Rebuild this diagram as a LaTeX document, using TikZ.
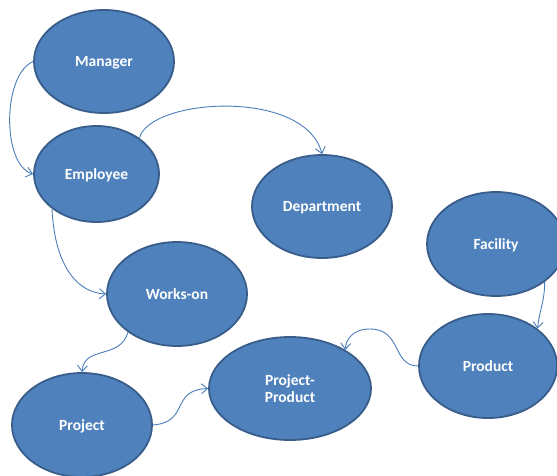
\documentclass[tikz,border=0pt]{standalone}
\usepackage{fontspec}
\setmainfont{Carlito}
\usetikzlibrary{shapes.geometric,arrows.meta}
\definecolor{entfill}{HTML}{4F81BD}
\definecolor{entline}{HTML}{385D8A}
\definecolor{linkcol}{HTML}{4A7EBB}
\tikzset{
  entity/.style={ellipse, fill=entfill, draw=entline, line width=1.8pt, inner sep=0pt,
    text=white, font=\fontsize{15.5}{17.7}\selectfont\bfseries, align=center},
  oneline/.style={text depth=0pt},
  link/.style={draw=linkcol, line width=0.9pt, -{Straight Barb[length=6pt,width=10pt]}}
}
\begin{document}
\begin{tikzpicture}[x=1pt,y=-1pt]
\clip (0,0) rectangle (557,475);
\fill[white] (0,0) rectangle (557,475);
\node[entity, oneline, minimum width=140pt, minimum height=103pt] (manager) at (104,61.5) {Manager};
\node[entity, oneline, minimum width=125pt, minimum height=96pt] (employee) at (96.5,174) {Employee};
\node[entity, oneline, minimum width=140pt, minimum height=103pt] (dept) at (322,206.5) {Department};
\node[entity, oneline, minimum width=138pt, minimum height=104pt] (facility) at (496,244) {Facility};
\node[entity, oneline, minimum width=140pt, minimum height=104pt] (works) at (177,294) {Works-on};
\node[entity, oneline, minimum width=140pt, minimum height=104pt] (project) at (82,425) {Project};
\node[entity, minimum width=162pt, minimum height=103pt] (pp) at (290,388.5) {Project-\\Product};
\node[entity, oneline, minimum width=138pt, minimum height=104pt] (product) at (488,366) {Product};

\draw[link] (manager.west) .. controls (2,75) and (2,165) .. (employee.west);
\draw[link] (employee.40) .. controls (150,98) and (305,88) .. (dept.north);
\draw[link] (employee.218) .. controls (55,270) and (80,293) .. (works.west);
\draw[link] (works.218) .. controls (120,360) and (84,345) .. (project.north);
\draw[link] (project.east) .. controls (190,422) and (170,390) .. (pp.west);
\draw[link] (product.west) .. controls (392,366) and (402,329) .. (370,329) .. controls (352,329) and (346,340) .. (pp.35);
\draw[link] (facility.-38) .. controls (545,300) and (539,312) .. (product.37);
\end{tikzpicture}
\end{document}
